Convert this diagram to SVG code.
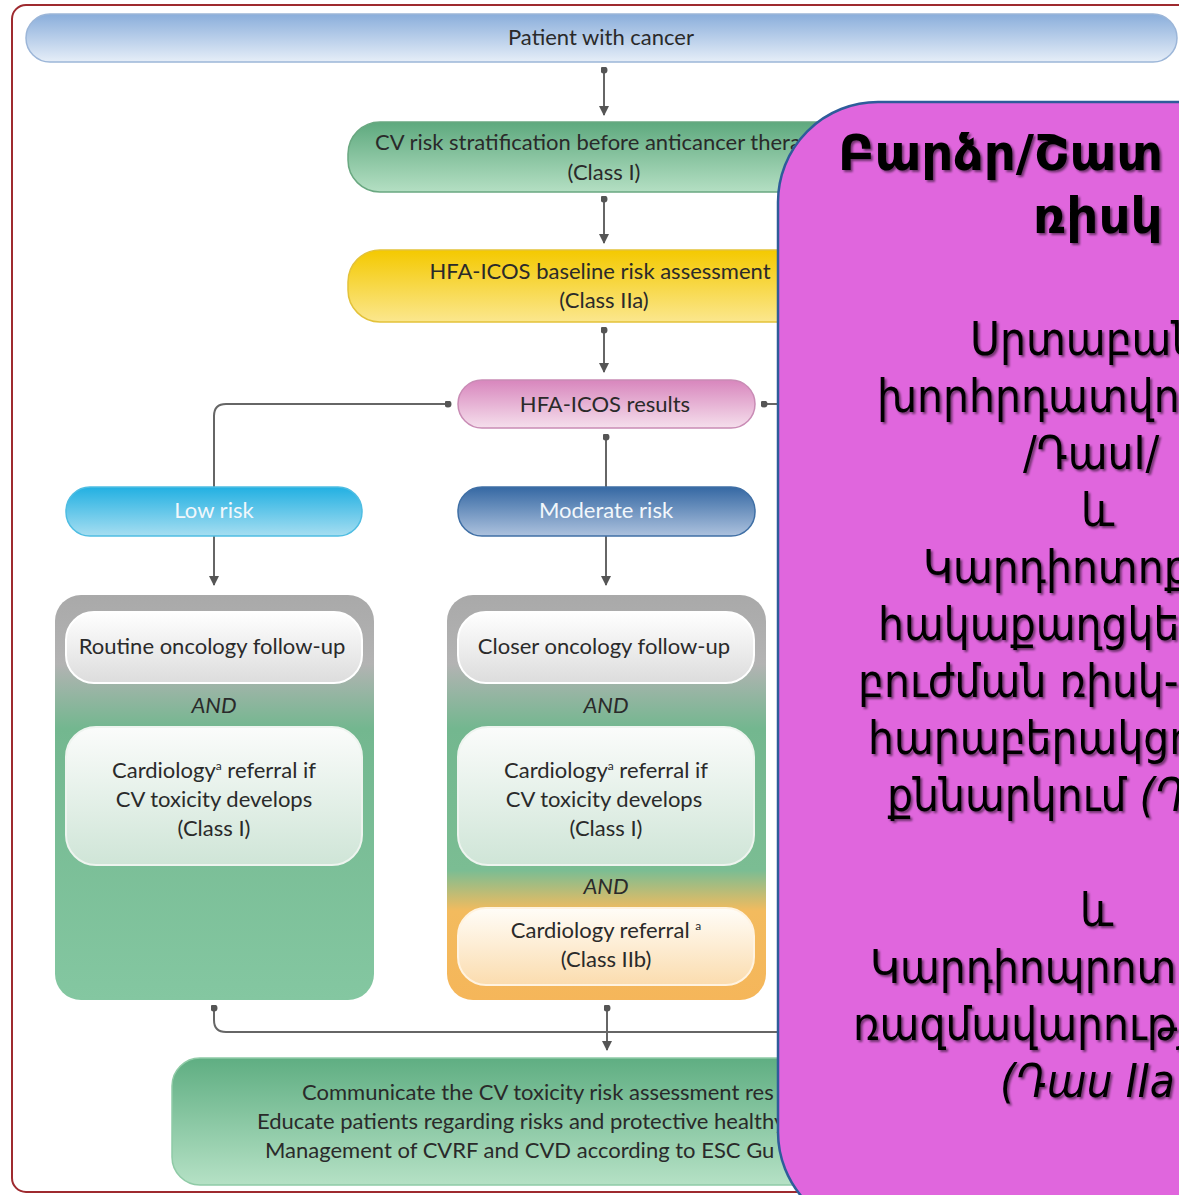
<svg xmlns="http://www.w3.org/2000/svg" width="1179" height="1195" viewBox="0 0 1179 1195">
<defs>
<style>
.t{font-family:Lato,"Open Sans","Liberation Sans",sans-serif;font-size:22px;fill:#2a2a2a}
.w{fill:#f2f7fb}
.i{font-style:italic}
.c{text-anchor:middle}
.ln{fill:none;stroke:#666;stroke-width:2}
.arm{font-family:"DejaVu Sans Condensed","DejaVu Sans",sans-serif;fill:#000;font-size:45.5px}
.armb{font-family:"DejaVu Sans",sans-serif;font-weight:bold;font-size:50px}
</style>
<linearGradient id="gBar" x1="0" y1="0" x2="0" y2="1"><stop offset="0" stop-color="#8aaedb"/><stop offset="1" stop-color="#e6eef8"/></linearGradient>
<linearGradient id="gGreen" x1="0" y1="0" x2="0" y2="1"><stop offset="0" stop-color="#5ea97e"/><stop offset="1" stop-color="#b4dfc3"/></linearGradient>
<linearGradient id="gYel" x1="0" y1="0" x2="0" y2="1"><stop offset="0" stop-color="#f4c900"/><stop offset="1" stop-color="#fbe78e"/></linearGradient>
<linearGradient id="gPink" x1="0" y1="0" x2="0" y2="1"><stop offset="0" stop-color="#d886bd"/><stop offset="1" stop-color="#f5dfec"/></linearGradient>
<linearGradient id="gLow" x1="0" y1="0" x2="0" y2="1"><stop offset="0" stop-color="#22b0e2"/><stop offset="1" stop-color="#a6def1"/></linearGradient>
<linearGradient id="gMod" x1="0" y1="0" x2="0" y2="1"><stop offset="0" stop-color="#3568a3"/><stop offset="1" stop-color="#adc2de"/></linearGradient>
<linearGradient id="gCol1" x1="0" y1="0" x2="0" y2="1"><stop offset="0" stop-color="#a9a9a9"/><stop offset="0.17" stop-color="#b3b3b3"/><stop offset="0.33" stop-color="#73b78f"/><stop offset="1" stop-color="#84c7a1"/></linearGradient>
<linearGradient id="gCol2" x1="0" y1="0" x2="0" y2="1"><stop offset="0" stop-color="#a9a9a9"/><stop offset="0.17" stop-color="#b3b3b3"/><stop offset="0.33" stop-color="#73b78f"/><stop offset="0.68" stop-color="#7bbd93"/><stop offset="0.78" stop-color="#f3bb5e"/><stop offset="1" stop-color="#f5b65a"/></linearGradient>
<linearGradient id="gWhite" x1="0" y1="0" x2="0" y2="1"><stop offset="0" stop-color="#ffffff"/><stop offset="1" stop-color="#dcdcdc"/></linearGradient>
<linearGradient id="gCard" x1="0" y1="0" x2="0" y2="1"><stop offset="0" stop-color="#fbfcfb"/><stop offset="1" stop-color="#cfe5d7"/></linearGradient>
<linearGradient id="gCream" x1="0" y1="0" x2="0" y2="1"><stop offset="0" stop-color="#fffdf8"/><stop offset="1" stop-color="#fbdcae"/></linearGradient>
<linearGradient id="gBottom" x1="0" y1="0" x2="0" y2="1"><stop offset="0" stop-color="#5fae82"/><stop offset="1" stop-color="#b5e1c5"/></linearGradient>
<marker id="ah" viewBox="0 0 10 10" refX="9" refY="5" markerWidth="5" markerHeight="5" orient="auto" markerUnits="strokeWidth"><path d="M0,0 L10,5 L0,10 Z" fill="#555"/></marker>
<marker id="dot" viewBox="0 0 10 10" refX="5" refY="5" markerWidth="3.5" markerHeight="3.5" markerUnits="strokeWidth"><circle cx="5" cy="5" r="5" fill="#555"/></marker>
<filter id="sh" x="-5%" y="-20%" width="110%" height="140%"><feDropShadow dx="2" dy="2" stdDeviation="1.2" flood-color="#000" flood-opacity="0.5"/></filter>
</defs>

<rect x="12" y="5" width="1190" height="1187" rx="14" fill="#fff" stroke="#9e2a2f" stroke-width="2"/>

<g id="connectors">
<path class="ln" d="M604,70 V115" marker-start="url(#dot)" marker-end="url(#ah)"/>
<path class="ln" d="M604,199 V243" marker-start="url(#dot)" marker-end="url(#ah)"/>
<path class="ln" d="M604,330 V372" marker-start="url(#dot)" marker-end="url(#ah)"/>
<path class="ln" d="M448,404 H226 Q214,404 214,416 V585" marker-start="url(#dot)" marker-end="url(#ah)"/>
<path class="ln" d="M764,404 H790" marker-start="url(#dot)"/>
<path class="ln" d="M606,437 V585" marker-start="url(#dot)" marker-end="url(#ah)"/>
<path class="ln" d="M214,1008 V1020 Q214,1032 226,1032 H790" marker-start="url(#dot)"/>
<path class="ln" d="M607,1008 V1050" marker-start="url(#dot)" marker-end="url(#ah)"/>
</g>

<g id="patient">
<rect x="26" y="14" width="1151" height="48" rx="24" fill="url(#gBar)" stroke="#9cb6d8" stroke-width="1.5"/>
<text class="t c" x="601" y="45">Patient with cancer</text>
</g>

<g id="cv-risk">
<rect x="348" y="122" width="512" height="70" rx="32" fill="url(#gGreen)" stroke="#6aa881" stroke-width="1.5"/>
<text class="t" x="375" y="150">CV risk stratification before anticancer thera</text>
<text class="t c" x="604" y="180">(Class I)</text>
</g>

<g id="hfa-baseline">
<rect x="348" y="250" width="512" height="72" rx="32" fill="url(#gYel)" stroke="#e3c23a" stroke-width="1.5"/>
<text class="t c" x="600" y="279">HFA-ICOS baseline risk assessment</text>
<text class="t c" x="604" y="308">(Class IIa)</text>
</g>

<g id="hfa-results">
<rect x="458" y="380" width="297" height="48" rx="24" fill="url(#gPink)" stroke="#c98cb5" stroke-width="1.5"/>
<text class="t c" x="605" y="412">HFA-ICOS results</text>
</g>

<g id="low-risk">
<rect x="66" y="487" width="296" height="49" rx="24" fill="url(#gLow)" stroke="#4fbde2" stroke-width="1.5"/>
<text class="t c w" x="214" y="518">Low risk</text>
</g>

<g id="moderate-risk">
<rect x="458" y="487" width="297" height="49" rx="24" fill="url(#gMod)" stroke="#3f6fa5" stroke-width="1.5"/>
<text class="t c w" x="606" y="518">Moderate risk</text>
</g>

<g id="low-actions">
<rect x="55" y="595" width="319" height="405" rx="26" fill="url(#gCol1)"/>
<rect x="66" y="612" width="296" height="71" rx="28" fill="url(#gWhite)" stroke="#fff" stroke-width="2"/>
<text class="t c" x="212" y="654">Routine oncology follow-up</text>
<text class="t c i" x="214" y="713">AND</text>
<rect x="66" y="727" width="296" height="138" rx="30" fill="url(#gCard)" stroke="#eef4ef" stroke-width="2"/>
<text class="t c" x="214" y="778">Cardiology<tspan font-size="12" dy="-8">a</tspan><tspan dy="8"> referral if</tspan></text>
<text class="t c" x="214" y="807">CV toxicity develops</text>
<text class="t c" x="214" y="836">(Class I)</text>
</g>

<g id="moderate-actions">
<rect x="447" y="595" width="319" height="405" rx="26" fill="url(#gCol2)"/>
<rect x="458" y="612" width="296" height="71" rx="28" fill="url(#gWhite)" stroke="#fff" stroke-width="2"/>
<text class="t c" x="604" y="654">Closer oncology follow-up</text>
<text class="t c i" x="606" y="713">AND</text>
<rect x="458" y="727" width="296" height="138" rx="30" fill="url(#gCard)" stroke="#eef4ef" stroke-width="2"/>
<text class="t c" x="606" y="778">Cardiology<tspan font-size="12" dy="-8">a</tspan><tspan dy="8"> referral if</tspan></text>
<text class="t c" x="604" y="807">CV toxicity develops</text>
<text class="t c" x="606" y="836">(Class I)</text>
<text class="t c i" x="606" y="894">AND</text>
<rect x="458" y="908" width="296" height="77" rx="28" fill="url(#gCream)" stroke="#fff3e0" stroke-width="2"/>
<text class="t c" x="606" y="938">Cardiology referral <tspan font-size="12" dy="-8">a</tspan></text>
<text class="t c" x="606" y="967">(Class IIb)</text>
</g>

<g id="communicate">
<rect x="172" y="1058" width="864" height="127" rx="28" fill="url(#gBottom)" stroke="#8fcaa6" stroke-width="1.5"/>
<text class="t" x="302" y="1100">Communicate the CV toxicity risk assessment res</text>
<text class="t" x="257" y="1129">Educate patients regarding risks and protective healthy</text>
<text class="t" x="265" y="1158">Management of CVRF and CVD according to ESC Gu</text>
</g>

<g id="high-risk">
<rect x="778" y="102" width="520" height="1130" rx="100" fill="#e066dd" stroke="#2e5c9a" stroke-width="2.5"/>
<g filter="url(#sh)">
<text class="armb" x="838" y="170">Բարձր/Շատ</text>
<text class="armb" x="1033" y="233">ռիսկ</text>
<text class="arm" x="970" y="355">Սրտաբան</text>
<text class="arm" x="877" y="412">խորհրդատվո</text>
<text class="arm" x="1023" y="469">/ԴասI/</text>
<text class="arm" x="1081" y="526">և</text>
<text class="arm" x="923" y="583">Կարդիոտոք</text>
<text class="arm" x="878" y="640">հակաքաղցկե</text>
<text class="arm" x="858" y="697">բուժման ռիսկ-</text>
<text class="arm" x="868" y="754">հարաբերակցո</text>
<text class="arm" x="887" y="811">քննարկում <tspan font-style="italic">(Դ</tspan></text>
<text class="arm" x="1080" y="926">և</text>
<text class="arm" x="870" y="983">Կարդիոպրոտ</text>
<text class="arm" x="853" y="1040">ռազմավարությ</text>
<text class="arm" x="1000" y="1097" font-style="italic">(Դաս IIa</text>
</g>
</g>
</svg>
